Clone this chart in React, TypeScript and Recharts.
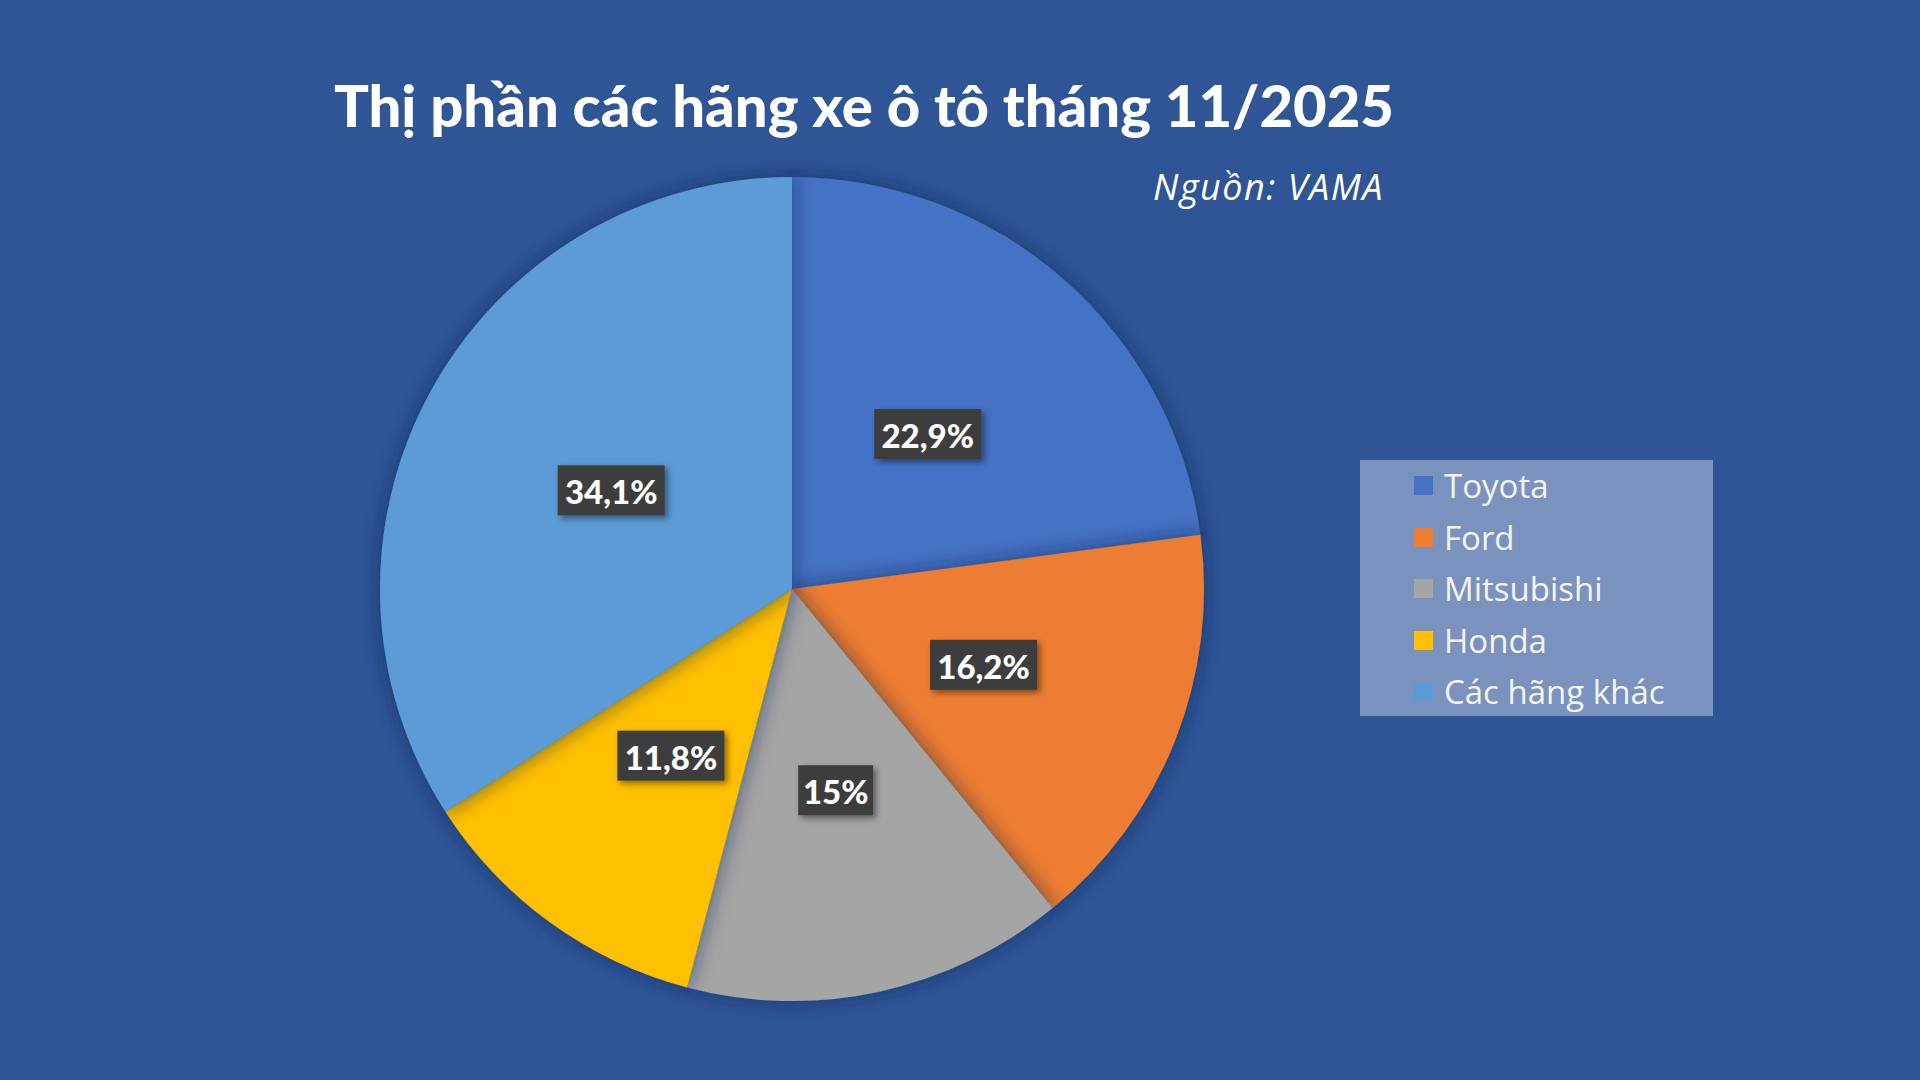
import { Legend, Pie, PieChart, Cell } from "recharts"

const brands = ["Toyota", "Ford", "Mitsubishi", "Honda", "Các hãng khác"]
const shares = [22.9, 16.2, 15, 11.8, 34.1]
const colors = ["#4472c4", "#ed7d31", "#a5a5a5", "#ffc000", "#5b9bd5"]

const data = brands.map((name, i) => ({ name, value: shares[i] }))

const RAD = Math.PI / 180
const FONT = "Lato, 'Open Sans', sans-serif"

function renderLabel(props: any) {
  const { cx, cy, midAngle, outerRadius, value } = props
  const r = outerRadius * 0.5
  const x = cx + r * Math.cos(-midAngle * RAD)
  const y = cy + r * Math.sin(-midAngle * RAD)
  const text = String(value).replace(".", ",") + "%"
  const w = text.length * 16 + 27
  const h = 50
  return (
    <g>
      <rect
        x={x - w / 2}
        y={y - h / 2}
        width={w}
        height={h}
        fill="#3d3d3d"
        filter="url(#labelShadow)"
      />
      <text
        x={x}
        y={y + 1}
        textAnchor="middle"
        dominantBaseline="central"
        fill="#ffffff"
        fontFamily={FONT}
        fontWeight={900}
        fontSize={33}
      >
        {text}
      </text>
    </g>
  )
}

function LegendBox() {
  return (
    <div
      style={{
        background: "#7b92bf",
        width: 353,
        height: 256,
        boxSizing: "border-box",
        paddingTop: 0,
        paddingLeft: 54,
        fontFamily: "'Open Sans', sans-serif",
      }}
    >
      {data.map((d, i) => (
        <div key={d.name} style={{ display: "flex", alignItems: "center", height: 51.5 }}>
          <span style={{ width: 19, height: 19, background: colors[i], marginRight: 11 }} />
          <span style={{ color: "#f4f4f4", fontSize: 33 }}>{d.name}</span>
        </div>
      ))}
    </div>
  )
}

export default function App() {
  return (
    <div
      style={{
        position: "absolute",
        left: 0,
        top: 0,
        width: 1920,
        height: 1080,
        background: "#2f5597",
        overflow: "hidden",
      }}
    >
      <div
        style={{
          position: "absolute",
          left: 0,
          width: 1728,
          top: 70,
          textAlign: "center",
          color: "#ffffff",
          fontFamily: FONT,
          fontWeight: 900,
          fontSize: 58,
        }}
      >
        Thị phần các hãng xe ô tô tháng 11/2025
      </div>
      <div
        style={{
          position: "absolute",
          right: 536,
          top: 162,
          color: "#ffffff",
          fontFamily: "'Open Sans', sans-serif",
          fontStyle: "italic",
          fontSize: 36,
          letterSpacing: 1.5,
        }}
      >
        Nguồn: VAMA
      </div>
      <PieChart width={1920} height={1080} style={{ position: "absolute", left: 0, top: 0 }}>
        <defs>
          <filter id="pieShadow" x="-20%" y="-20%" width="140%" height="140%">
            <feDropShadow dx="0" dy="0" stdDeviation="10" floodColor="#10204a" floodOpacity="0.6" />
          </filter>
          <filter id="labelShadow" x="-30%" y="-30%" width="160%" height="160%">
            <feDropShadow dx="3" dy="3" stdDeviation="3" floodColor="#000000" floodOpacity="0.45" />
          </filter>
        </defs>
        <Pie
          data={data}
          dataKey="value"
          nameKey="name"
          cx={787}
          cy={584}
          outerRadius={412}
          startAngle={90}
          endAngle={-270}
          stroke="none"
          label={renderLabel}
          labelLine={false}
          isAnimationActive={false}
          style={{ filter: "url(#pieShadow)" }}
        >
          {data.map((d, i) => (
            <Cell key={d.name} fill={colors[i]} />
          ))}
        </Pie>
        <Legend
          content={() => <LegendBox />}
          wrapperStyle={{ position: "absolute", left: 1360, top: 460, width: 353 }}
        />
      </PieChart>
    </div>
  )
}
